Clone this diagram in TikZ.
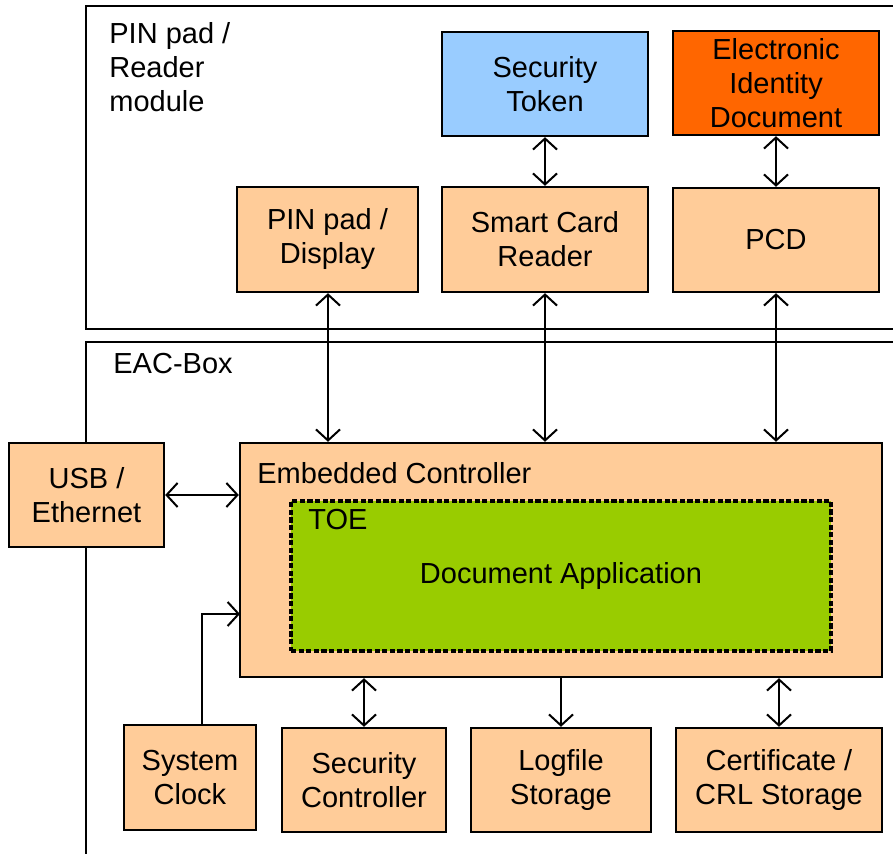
\documentclass[tikz,border=0pt]{standalone}
\usepackage{fontspec}
\setmainfont{Liberation Sans}
\usetikzlibrary{arrows.meta}
\definecolor{peach}{HTML}{FFCC99}
\definecolor{tokblue}{HTML}{99CCFF}
\definecolor{eidorange}{HTML}{FF6600}
\definecolor{toegreen}{HTML}{99CC00}
\tikzset{
	blk/.style={draw, line width=1.2pt, fill=peach, align=center, inner sep=0pt},
	frm/.style={line width=1pt},
	con/.style={line width=1pt, {Straight Barb[length=5.5pt,width=12pt]}-{Straight Barb[length=5.5pt,width=12pt]}},
	oneway/.style={line width=1pt, -{Straight Barb[length=5.5pt,width=12pt]}}
}
\begin{document}
\begin{tikzpicture}[x=0.5pt,y=-0.5pt,font=\fontsize{14.5pt}{17pt}\selectfont]
		\useasboundingbox (0,0) rectangle (893,854);
		\draw[frm](893,6)--(86,6)--(86,329)--(893,329);
		\draw[frm](893,342)--(86,342)--(86,854);
		\node[anchor=west, align=left, inner sep=0pt] (rdlbl) at(109,67){PIN pad /\\Reader\\module};
		\node[anchor=west, inner sep=0pt] (eaclbl) at(113,364){EAC-Box};
		\node[blk, fill=tokblue, minimum width=103pt, minimum height=52pt] (tok) at(545,84){Security\\Token};
		\node[blk, fill=eidorange, minimum width=103pt, minimum height=52pt] (eid) at(776,83){Electronic\\Identity\\Document};
		\node[blk, minimum width=90.5pt, minimum height=52.5pt] (pin) at(327.5,239.5){PIN pad /\\Display};
		\node[blk, minimum width=103pt, minimum height=52.5pt] (scr) at(545,239.5){Smart Card\\Reader};
		\node[blk, minimum width=103pt, minimum height=52pt] (pcd) at(776,240){PCD};
		\node[blk, minimum width=321pt, minimum height=117pt] (ec) at(561,560){};
		\node[anchor=west, inner sep=0pt] (eclbl) at(257,473){Embedded Controller};
		\node[blk, fill=toegreen, line width=1.6pt, dash pattern=on 2.6pt off 1.2pt, minimum width=270pt, minimum height=75pt] (toe) at(561,576){Document Application};
		\node[anchor=west, inner sep=0pt] (toelbl) at(308,520){TOE};
		\node[blk, minimum width=77.5pt, minimum height=52pt] (usb) at(86.5,495){USB /\\Ethernet};
		\node[blk, minimum width=66pt, minimum height=52.5pt] (clk) at(190,777.5){System\\Clock};
		\node[blk, minimum width=82pt, minimum height=52pt] (sec) at(364,780){Security\\Controller};
		\node[blk, minimum width=90pt, minimum height=52pt] (log) at(561,780){Logfile\\Storage};
		\node[blk, minimum width=103pt, minimum height=52pt] (crl) at(779,780){Certificate /\\CRL Storage};
		\coordinate (clkin) at(240,614);
		\draw[con](tok.south)--(scr.north);
		\draw[con](eid.south)--(pcd.north);
		\draw[con]([xshift=0.25pt]pin.south)--([xshift=0.25pt]pin.south |- ec.north);
		\draw[con](scr.south)--(scr.south |- ec.north);
		\draw[con](pcd.south)--(pcd.south |- ec.north);
		\draw[con](usb.east)--(usb.east -| ec.west);
		\draw[oneway]([xshift=6pt]clk.north)|-(clkin);
		\draw[con](sec.north |- ec.south)--(sec.north);
		\draw[oneway](log.north |- ec.south)--(log.north);
		\draw[con](crl.north |- ec.south)--(crl.north);
		\end{tikzpicture}
\end{document}
